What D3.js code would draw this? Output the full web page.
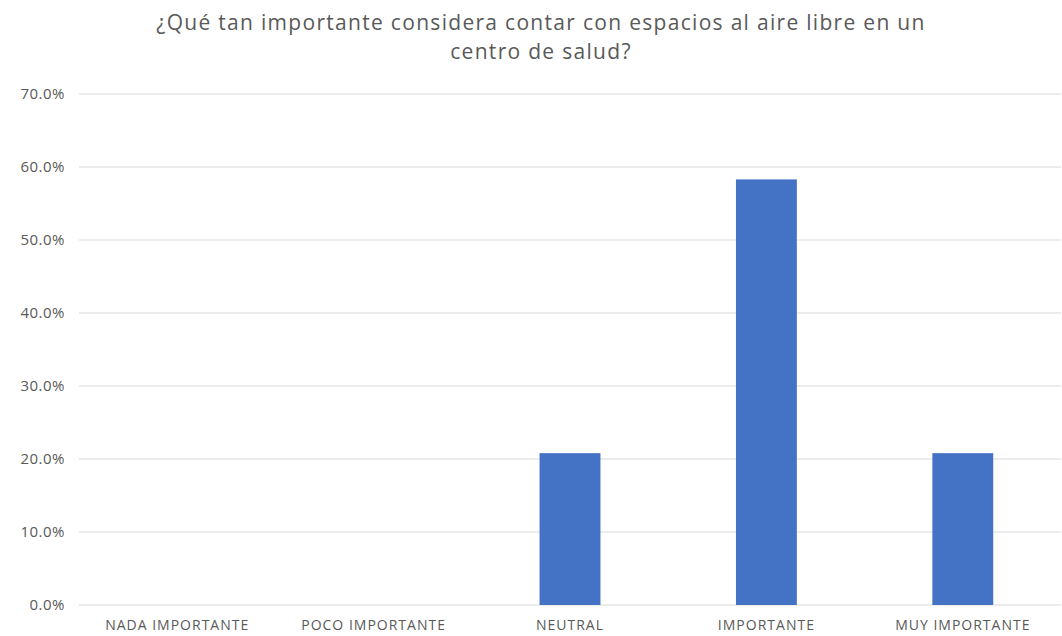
<!DOCTYPE html>
<html><head><meta charset="utf-8">
<script src="https://cdn.jsdelivr.net/npm/d3@7"></script>
<style>body{margin:0;background:#fff;} svg{display:block;}</style>
</head><body>
<script>
const categories = ["NADA IMPORTANTE","POCO IMPORTANTE","NEUTRAL","IMPORTANTE","MUY IMPORTANTE"];
const values = [0, 0, 0.208, 0.583, 0.208];
const yTicks = [0,0.1,0.2,0.3,0.4,0.5,0.6,0.7];
const titleLines = ["¿Qué tan importante considera contar con espacios al aire libre en un","centro de salud?"];

const W=1062,H=636;
const svg=d3.select("body").append("svg").attr("width",W).attr("height",H);
const x=d3.scaleBand().domain(categories).range([79,1061]).paddingInner(0.69).paddingOuter(0.345);
const y=d3.scaleLinear().domain([0,0.7]).range([605,94]);

const font="'Open Sans', sans-serif";
const grid=svg.append("g");
grid.selectAll("line").data(yTicks).join("line")
  .attr("x1",79).attr("x2",1061).attr("y1",d=>y(d)).attr("y2",d=>y(d))
  .attr("stroke","#d9d9d9").attr("stroke-width",1);

const yAxis=svg.append("g").attr("transform","translate(79,0)")
  .call(d3.axisLeft(y).tickValues(yTicks).tickFormat(d3.format(".1%")).tickSize(0).tickPadding(14));
yAxis.select(".domain").remove();
yAxis.selectAll("text").attr("fill","#595959").style("font-family",font).style("font-size","15px").style("letter-spacing","0.5px");

svg.append("g").selectAll("rect").data(values).join("rect")
  .attr("x",(d,i)=>x(categories[i])).attr("width",x.bandwidth())
  .attr("y",d=>y(d)).attr("height",d=>y(0)-y(d)).attr("fill","#4472c4");

const xAxis=svg.append("g").attr("transform","translate(0,605)")
  .call(d3.axisBottom(x).tickSize(0).tickPadding(15));
xAxis.select(".domain").remove();
xAxis.selectAll("text").attr("fill","#595959").style("font-family",font).style("font-size","14px").style("letter-spacing","1px");

svg.append("g").selectAll("text").data(titleLines).join("text")
  .attr("x",541).attr("y",(d,i)=>30+i*29).attr("text-anchor","middle")
  .attr("fill","#595959").style("font-family",font).style("font-size","21px").style("letter-spacing","1.3px").text(d=>d);
</script>
</body></html>
